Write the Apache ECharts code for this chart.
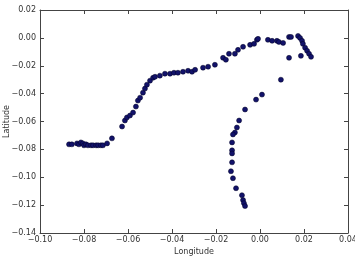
<!DOCTYPE html>
<html>
<head>
<meta charset="utf-8">
<script src="https://cdn.jsdelivr.net/npm/echarts@6/dist/echarts.min.js"></script>
<style>
html, body { margin: 0; padding: 0; background: #fff; }
#chart { width: 355px; height: 256px; }
</style>
</head>
<body>
<div id="chart"></div>
<script>
// longitude / latitude of each point
const lon = [-0.0868, -0.0855, -0.0832, -0.0823, -0.0814, -0.0805, -0.0800, -0.0791, -0.0782, -0.0768,
  -0.0759, -0.0745, -0.0736, -0.0723, -0.0714, -0.0695, -0.0673, -0.0627, -0.0614, -0.0605,
  -0.0591, -0.0577, -0.0564, -0.0555, -0.0545, -0.0532, -0.0523, -0.0514, -0.0500, -0.0486,
  -0.0477, -0.0455, -0.0432, -0.0409, -0.0391, -0.0373, -0.0350, -0.0327, -0.0309, -0.0295,
  -0.0259, -0.0236, -0.0205, -0.0168, -0.0155, -0.0141, -0.0114, -0.0100, -0.0077, -0.0045,
  -0.0027, -0.0014, -0.0009, 0.0036, 0.0055, 0.0077, 0.0086, 0.0105, 0.0132, 0.0141,
  0.0173, 0.0182, 0.0191, 0.0195, 0.0205, 0.0214, 0.0223, 0.0232,
  0.0186, 0.0132, 0.0095, 0.0009, -0.0018, -0.0068, -0.0095, -0.0105, -0.0114, -0.0123,
  -0.0127, -0.0127, -0.0127, -0.0127, -0.0132, -0.0123, -0.0109, -0.0082, -0.0077, -0.0073, -0.0068]
const lat = [-0.0764, -0.0764, -0.0757, -0.0764, -0.0750, -0.0757, -0.0771, -0.0764, -0.0771, -0.0771,
  -0.0771, -0.0771, -0.0771, -0.0771, -0.0771, -0.0757, -0.0721, -0.0636, -0.0593, -0.0571,
  -0.0557, -0.0536, -0.0493, -0.0450, -0.0429, -0.0393, -0.0364, -0.0336, -0.0307, -0.0286,
  -0.0279, -0.0271, -0.0257, -0.0257, -0.0250, -0.0250, -0.0243, -0.0236, -0.0243, -0.0229,
  -0.0214, -0.0207, -0.0193, -0.0143, -0.0157, -0.0114, -0.0114, -0.0086, -0.0064, -0.0050,
  -0.0043, -0.0014, -0.0007, -0.0014, -0.0021, -0.0021, -0.0029, -0.0036, 0.0007, 0.0007,
  0.0014, 0.0000, -0.0021, -0.0043, -0.0071, -0.0093, -0.0114, -0.0136,
  -0.0129, -0.0143, -0.0300, -0.0407, -0.0443, -0.0514, -0.0593, -0.0643, -0.0679, -0.0693,
  -0.0750, -0.0807, -0.0829, -0.0893, -0.0957, -0.1007, -0.1079, -0.1129, -0.1164, -0.1186, -0.1207]

const xTicks = { min: -0.1, max: 0.04, step: 0.02 }
const yTicks = { min: -0.14, max: 0.02, step: 0.02 }

let pts = lon.map((v, i) => [v, lat[i]])

function fmt(v) {
    return v.toFixed(2).replace('-', '\u2212')
}

let dom = document.getElementById("chart")
let myChart = echarts.init(dom)
let font = "DejaVu Sans"
let line = { show: true, onZero: false, lineStyle: { color: '#444', width: 1 } }
let tick = { show: true, inside: true, length: 4, lineStyle: { color: '#444' } }

let option = {
    animation: false,
    grid: { left: 40, right: 7, top: 10, bottom: 23, outerBoundsMode: 'none', containLabel: false },
    xAxis: [{
        type: 'value',
        min: xTicks.min, max: xTicks.max, interval: xTicks.step,
        name: 'Longitude', nameLocation: 'middle', nameGap: 15, nameMoveOverlap: false,
        nameTextStyle: { fontFamily: font, fontSize: 8, color: '#333' },
        axisLine: line, axisTick: tick,
        axisLabel: { fontFamily: font, fontSize: 8, color: '#333', margin: 3, formatter: fmt },
        splitLine: { show: false }
    }, {
        type: 'value', position: 'top',
        min: xTicks.min, max: xTicks.max, interval: xTicks.step,
        axisLine: line, axisTick: tick, axisLabel: { show: false }, splitLine: { show: false }
    }],
    yAxis: [{
        type: 'value',
        min: yTicks.min, max: yTicks.max, interval: yTicks.step,
        name: 'Latitude', nameLocation: 'middle', nameGap: 29, nameMoveOverlap: false,
        nameTextStyle: { fontFamily: font, fontSize: 8, color: '#333' },
        axisLine: line, axisTick: tick,
        axisLabel: { fontFamily: font, fontSize: 8, color: '#333', margin: 4, formatter: fmt },
        splitLine: { show: false }
    }, {
        type: 'value', position: 'right',
        min: yTicks.min, max: yTicks.max, interval: yTicks.step,
        axisLine: line, axisTick: tick, axisLabel: { show: false }, splitLine: { show: false }
    }],
    series: [{
        type: 'scatter',
        data: pts,
        symbol: 'circle',
        symbolSize: 5,
        itemStyle: { color: '#12126a', borderColor: '#000022', borderWidth: 0.5, opacity: 1 }
    }]
}
myChart.setOption(option)
</script>
</body>
</html>
